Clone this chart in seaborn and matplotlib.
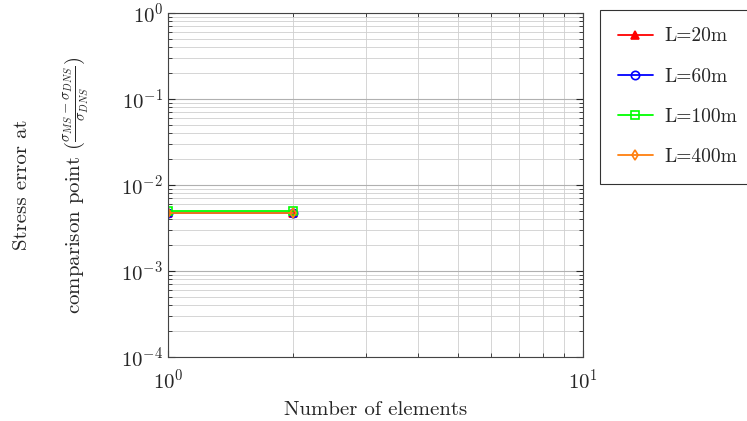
import matplotlib
matplotlib.use("Agg")
import matplotlib.pyplot as plt
import seaborn as sns
import pandas as pd
from matplotlib.ticker import LogLocator, NullFormatter

sns.set_style("ticks")
plt.rcParams['font.family'] = ['serif']
plt.rcParams['font.serif'] = ['cmr10', 'DejaVu Serif']
plt.rcParams['mathtext.fontset'] = 'cm'
plt.rcParams['axes.formatter.use_mathtext'] = True

elements = [1, 2]
labels = ["L=20m", "L=60m", "L=100m", "L=400m"]
err_20 = [0.00475, 0.00475]
err_60 = [0.00478, 0.00478]
err_100 = [0.00500, 0.00500]
err_400 = [0.00472, 0.00472]
colors = ["#ff0000", "#0000ff", "#00ff00", "#ff7f0e"]
markers = ["^", "o", "s", "d"]

series = [err_20, err_60, err_100, err_400]
df = pd.concat([pd.DataFrame({"n": elements, "err": s, "L": lab}) for s, lab in zip(series, labels)])

fig = plt.figure(figsize=(7.47, 4.21), dpi=100)
ax = fig.add_axes([168/747, 1-357/421, (583-168)/747, (357-13)/421])

for lab, c, m in zip(labels, colors, markers):
    sub = df[df["L"] == lab]
    sns.lineplot(data=sub, x="n", y="err", ax=ax, color=c, marker=m,
                 markerfacecolor="none" if m != "^" else c, markeredgecolor=c,
                 markersize=6 if m != "d" else 5, markeredgewidth=1.2, linewidth=1.3,
                 label=lab, legend=False)

ax.set_xscale("log")
ax.set_yscale("log")
ax.set_xlim(1, 10)
ax.set_ylim(1e-4, 1)
ax.yaxis.set_major_locator(LogLocator(base=10, numticks=10))
ax.yaxis.set_minor_locator(LogLocator(base=10, subs=range(2, 10), numticks=10))
ax.xaxis.set_minor_locator(LogLocator(base=10, subs=range(2, 10), numticks=10))
ax.xaxis.set_minor_formatter(NullFormatter())
ax.yaxis.set_minor_formatter(NullFormatter())
ax.grid(True, which="major", color="#b0b0b0", linewidth=0.8)
ax.grid(True, which="minor", color="#cfcfcf", linewidth=0.6)
ax.tick_params(which="both", direction="in", top=True, right=True, labelsize=15)
ax.tick_params(axis="x", which="major", pad=8)
ax.tick_params(which="major", length=5)
ax.tick_params(which="minor", length=3)
for sp in ax.spines.values():
    sp.set_color("#444444")

ax.set_xlabel("Number of elements", fontsize=15, labelpad=6)
ax.set_ylabel("Stress error at\ncomparison point ($\\frac{\\sigma_{MS}-\\sigma_{DNS}}{\\sigma_{DNS}}$)",
              fontsize=15, labelpad=22, linespacing=2.55)

handles = [plt.Line2D([], [], color=c, marker=m, markerfacecolor="none" if m != "^" else c,
                      markeredgecolor=c, markersize=6 if m != "d" else 5,
                      markeredgewidth=1.2, linewidth=1.3) for c, m in zip(colors, markers)]
leg = fig.legend(handles=handles, labels=labels, loc="upper left",
                 bbox_to_anchor=(600/747, 1-10/421), frameon=True,
                 fontsize=14, fancybox=False, edgecolor="black", borderpad=0.9,
                 labelspacing=1.15, handlelength=1.85, handletextpad=0.55,
                 borderaxespad=0)
leg.get_frame().set_linewidth(0.8)

fig.savefig("out.png", dpi=100)
